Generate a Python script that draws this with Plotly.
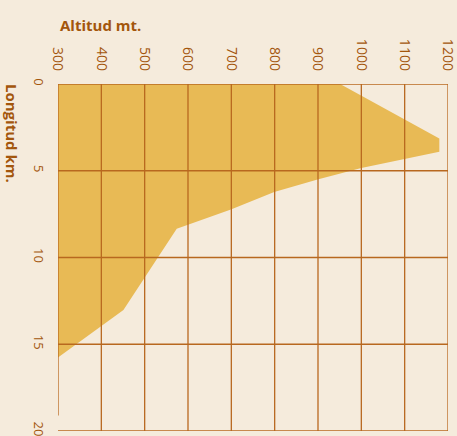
import plotly.graph_objects as go

# Profile data
longitud_km = [0, 3.14, 3.91, 4.34, 4.84, 5.49, 6.23, 7.24, 8.34, 13.02, 15.76]
altitud_m = [951, 1180, 1180, 1099, 1000, 901, 799, 699, 574, 451, 300]

x_ticks = [300, 400, 500, 600, 700, 800, 900, 1000, 1100, 1200]
y_ticks = [0, 5, 10, 15, 20]

BG = "#f5ebdc"
FILL = "#e8ba55"
GRID = "#b8681f"
TXT = "#a3560c"
FONT = "Open Sans"

fig = go.Figure()
fig.add_trace(go.Scatter(
    x=altitud_m, y=longitud_km, mode="lines", fill="tozerox",
    fillcolor=FILL, line=dict(width=0, color=FILL), hoverinfo="skip",
    showlegend=False,
))

shapes = []
for xv in x_ticks:
    y_end = 19.1 if xv == x_ticks[0] else y_ticks[-1]
    shapes.append(dict(type="line", xref="x", yref="y", x0=xv, x1=xv,
                       y0=y_ticks[0], y1=y_end, layer="above",
                       line=dict(color=GRID, width=1.3)))
for yv in y_ticks:
    shapes.append(dict(type="line", xref="x", yref="y", x0=x_ticks[0], x1=x_ticks[-1],
                       y0=yv, y1=yv, layer="above",
                       line=dict(color=GRID, width=1.3)))

fig.update_layout(
    width=457, height=436,
    margin=dict(l=58, r=9, t=84, b=5, autoexpand=False),
    paper_bgcolor=BG, plot_bgcolor=BG,
    font=dict(family=FONT, color=TXT, size=13),
    shapes=shapes,
    xaxis=dict(side="top", range=[300, 1200], tickvals=x_ticks,
               ticktext=[str(v) for v in x_ticks], tickangle=90,
               showgrid=False, zeroline=False, showline=False,
               ticks="", ticklabelstandoff=10, automargin=False,
               ticklabeloverflow="allow",
               tickfont=dict(size=14, color=TXT, family=FONT)),
    yaxis=dict(range=[20, 0], tickvals=y_ticks,
               ticktext=[str(v) for v in y_ticks], tickangle=90,
               showgrid=False, zeroline=False, showline=False,
               ticks="", ticklabelstandoff=10, automargin=False,
               ticklabeloverflow="allow",
               tickfont=dict(size=13, color=TXT, family=FONT)),
    annotations=[
        dict(text="<b>Altitud mt.</b>", xref="paper", yref="paper",
             x=0, y=1.17, xanchor="left", yanchor="middle", showarrow=False,
             font=dict(size=15, color=TXT, family=FONT)),
        dict(text="<b>Longitud km.</b>", xref="paper", yref="paper",
             x=-0.118, y=0.856, xanchor="center", yanchor="middle",
             textangle=90, showarrow=False,
             font=dict(size=15, color=TXT, family=FONT)),
    ],
)

fig.write_html("out.html", config={"displayModeBar": False},
               post_script="document.body.style.margin='0';document.body.style.background='%s';" % BG)
